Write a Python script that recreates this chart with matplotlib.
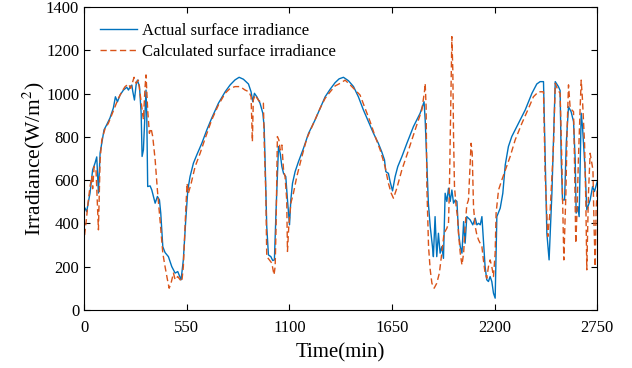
import matplotlib
matplotlib.use("Agg")
import matplotlib.pyplot as plt

# Measured irradiance (time in min, W/m^2)
act_time = [5, 14, 32, 46, 59, 68, 77, 86, 95, 107, 121, 139, 157, 168, 179, 193, 211, 229, 238, 247,
            256, 261, 270, 279, 286, 297, 306, 311, 318, 327, 332, 336, 341, 354, 363, 381, 393, 404, 411, 422,
            434, 452, 470, 488, 502, 509, 520, 532, 545, 556, 568, 586, 604, 631, 658, 684, 720, 756, 783, 809,
            831, 854, 881, 895, 904, 913, 926, 943, 958, 965, 970, 979, 988, 1001, 1011, 1020, 1029, 1042, 1051, 1060,
            1069, 1081, 1090, 1101, 1108, 1117, 1131, 1149, 1176, 1203, 1238, 1265, 1292, 1319, 1345, 1367, 1390, 1417, 1444, 1470,
            1497, 1524, 1551, 1577, 1595, 1610, 1617, 1631, 1640, 1653, 1667, 1681, 1703, 1730, 1765, 1801, 1822, 1828, 1837, 1845,
            1855, 1867, 1872, 1881, 1890, 1899, 1908, 1917, 1926, 1935, 1944, 1953, 1962, 1971, 1980, 1989, 1998, 2007, 2016, 2025,
            2034, 2042, 2051, 2069, 2083, 2096, 2105, 2114, 2123, 2132, 2140, 2149, 2158, 2167, 2176, 2185, 2194, 2203, 2212, 2230,
            2244, 2257, 2274, 2292, 2328, 2364, 2400, 2426, 2444, 2462, 2471, 2480, 2492, 2507, 2525, 2542, 2551, 2557, 2564, 2575,
            2584, 2596, 2610, 2623, 2632, 2637, 2646, 2653, 2664, 2671, 2685, 2694, 2712, 2725, 2735, 2750]
act_irr = [470, 454, 540, 647, 679, 707, 540, 725, 771, 832, 855, 887, 933, 985, 962, 993, 1016, 1029, 1016, 1032,
           1039, 1010, 970, 1040, 1062, 1032, 909, 709, 739, 910, 1016, 900, 570, 573, 554, 493, 524, 508, 447, 292,
           265, 246, 200, 170, 177, 162, 139, 231, 416, 554, 616, 678, 716, 770, 832, 886, 955, 1008, 1040, 1063,
           1075, 1066, 1044, 1008, 962, 1001, 985, 955, 909, 847, 693, 385, 254, 246, 228, 231, 462, 755, 724, 662,
           631, 616, 508, 393, 508, 585, 639, 685, 747, 816, 878, 932, 985, 1020, 1050, 1068, 1075, 1059, 1032, 985,
           924, 870, 816, 770, 731, 693, 639, 631, 593, 550, 616, 662, 708, 770, 847, 909, 962, 878, 678, 493,
           385, 292, 246, 431, 246, 354, 262, 292, 238, 539, 501, 562, 501, 554, 493, 508, 501, 354, 292, 262,
           408, 308, 431, 416, 393, 424, 393, 400, 393, 431, 323, 200, 139, 131, 154, 131, 77, 54, 431, 470,
           539, 670, 755, 801, 862, 924, 1001, 1044, 1055, 1055, 693, 354, 231, 539, 1055, 1032, 1014, 693, 508, 508,
           770, 939, 916, 870, 693, 447, 477, 431, 909, 847, 647, 462, 508, 570, 547, 593]

# Calculated irradiance
calc_time = [3, 14, 23, 32, 41, 46, 54, 64, 77, 86, 95, 113, 130, 148, 166, 184, 202, 220, 238, 250,
             261, 268, 279, 291, 300, 309, 318, 327, 332, 341, 350, 359, 368, 381, 393, 407, 422, 434, 447, 456,
             466, 479, 488, 502, 515, 524, 532, 545, 552, 559, 574, 595, 622, 649, 684, 720, 756, 783, 809, 836,
             863, 884, 895, 902, 907, 916, 934, 952, 961, 966, 974, 979, 993, 1006, 1018, 1024, 1029, 1036, 1044, 1051,
             1060, 1069, 1077, 1086, 1090, 1097, 1108, 1122, 1140, 1167, 1194, 1229, 1265, 1292, 1319, 1345, 1372, 1399, 1426, 1453,
             1479, 1506, 1533, 1560, 1587, 1613, 1631, 1646, 1658, 1676, 1703, 1730, 1756, 1783, 1810, 1824, 1828, 1833, 1837, 1846,
             1855, 1864, 1876, 1890, 1904, 1917, 1929, 1944, 1953, 1958, 1965, 1971, 1976, 1980, 1985, 1994, 2001, 2007, 2016, 2025,
             2034, 2042, 2051, 2060, 2069, 2074, 2080, 2087, 2096, 2105, 2114, 2123, 2132, 2140, 2149, 2158, 2167, 2176, 2185, 2194,
             2203, 2208, 2221, 2239, 2257, 2283, 2310, 2346, 2382, 2408, 2435, 2462, 2471, 2485, 2498, 2516, 2525, 2539, 2551, 2560,
             2571, 2582, 2589, 2596, 2605, 2614, 2623, 2628, 2635, 2642, 2649, 2658, 2664, 2671, 2682, 2689, 2694, 2703, 2712, 2721,
             2727, 2733, 2739, 2744, 2750]
calc_irr = [346, 431, 508, 570, 616, 560, 662, 647, 370, 693, 785, 839, 862, 901, 939, 978, 1008, 1032, 1044, 1024,
            1055, 1075, 1047, 1062, 1001, 939, 880, 1032, 1086, 924, 816, 839, 801, 693, 554, 416, 262, 200, 139, 100,
            123, 170, 139, 154, 139, 131, 200, 462, 585, 539, 585, 662, 724, 793, 878, 947, 1001, 1024, 1032, 1032,
            1016, 1008, 985, 778, 970, 993, 970, 955, 955, 755, 539, 246, 231, 216, 162, 200, 385, 801, 785, 739,
            762, 647, 616, 508, 270, 385, 493, 539, 616, 708, 793, 862, 932, 978, 1008, 1035, 1047, 1062, 1040, 1016,
            993, 932, 870, 801, 739, 662, 585, 539, 516, 562, 647, 716, 785, 855, 924, 1008, 1047, 939, 570, 292,
            185, 123, 100, 123, 170, 262, 354, 377, 400, 570, 955, 1263, 1109, 801, 570, 477, 431, 350, 262, 208,
            262, 385, 485, 508, 678, 770, 724, 477, 385, 346, 323, 308, 292, 231, 170, 146, 200, 231, 200, 154,
            262, 447, 554, 601, 645, 708, 785, 862, 932, 985, 1008, 1008, 616, 339, 462, 770, 1047, 1016, 1001, 693,
            231, 539, 847, 1040, 932, 924, 916, 693, 308, 462, 693, 924, 1062, 970, 770, 493, 185, 539, 724, 678,
            647, 385, 200, 462, 560]

plt.rcParams['font.family'] = ['Liberation Serif', 'DejaVu Serif']
plt.rcParams['mathtext.fontset'] = 'stix'

fig = plt.figure(figsize=(6.32, 3.68), dpi=100)
ax = fig.add_axes([0.133, 0.158, 0.812, 0.823])

ax.plot(act_time, act_irr, color='#0072BD', linewidth=1.0, label='Actual surface irradiance')
ax.plot(calc_time, calc_irr, color='#D95319', linewidth=1.0, linestyle=(0, (4.5, 2.5)),
        label='Calculated surface irradiance')

ax.set_xlim(0, 2750)
ax.set_ylim(0, 1400)
ax.set_xticks([0, 550, 1100, 1650, 2200, 2750])
ax.set_yticks(range(0, 1401, 200))
ax.tick_params(direction='in', top=True, right=True, length=4, width=0.8, labelsize=12)
ax.tick_params(axis='x', pad=7.5)
for s in ax.spines.values():
    s.set_linewidth(0.8)

ax.set_xlabel('Time(min)', fontsize=15, labelpad=5)
ax.set_ylabel('Irradiance(W/m$^2$)', fontsize=15.5, labelpad=-1)

ax.legend(loc='upper left', frameon=False, fontsize=12, handlelength=2.2,
          borderaxespad=0.55, handletextpad=0.3, labelspacing=0.3)

fig.savefig('out.png', dpi=100)
